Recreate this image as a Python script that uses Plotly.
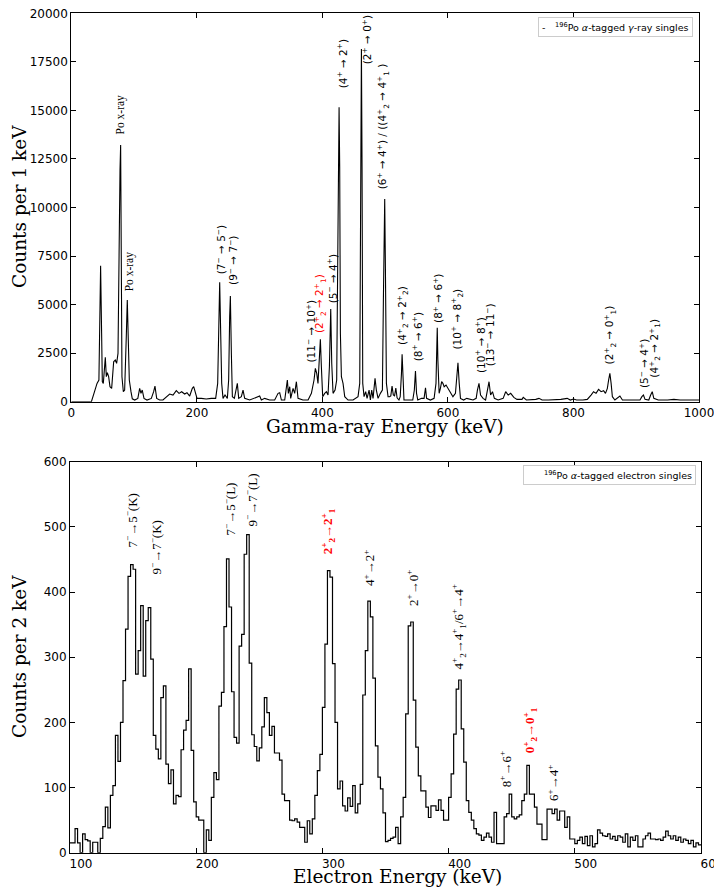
import numpy as np
import plotly.graph_objects as go

# ---------------------------------------------------------------------------
# 196Po alpha-tagged gamma-ray singles (energy in keV, counts per 1 keV)
# ---------------------------------------------------------------------------
gamma_energy = [
    0, 30, 32, 37, 41, 44, 45.7, 46.7, 48.3, 49.4, 51, 53.1, 54.2, 55.8, 57.4,
    59.5, 61.6, 64.3, 67.5, 70.1, 72.2, 74.4, 76, 77.6, 78.6, 79.7, 80.7, 82.9,
    85, 87.6, 89.2, 90.8, 92.4, 95.1, 97.2, 101, 106, 108.9, 111, 113, 115.8,
    120.6, 127.5, 131.2, 133.3, 136, 140.8, 146, 152.5, 156.7, 162, 167.3,
    171.6, 175.8, 180.6, 184.3, 188.6, 192.8, 195, 197.6, 200.3, 207.2, 215,
    223, 230, 233.2, 234.8, 236.4, 238, 239.6, 241.7, 244.9, 248.6, 250.7,
    252.3, 253.4, 255, 256.6, 259.8, 263, 264.5, 266.7, 270.9, 273.6, 276.2,
    284.2, 292.2, 300.1, 302.8, 308.1, 316, 324, 329.4, 332, 334.7, 340, 344.2,
    345.8, 348, 349.5, 353.3, 355.9, 358.6, 361.2, 369, 377.2, 382.5, 386.7,
    388.8, 391, 393, 395.2, 396.8, 398.4, 400.5, 403.7, 406.4, 409, 411.2,
    413.3, 414.9, 417, 420.2, 422.8, 424.4, 425.5, 426.6, 427.6, 428.7, 430.3,
    432.9, 435.6, 440.9, 448.9, 456.8, 459.5, 461, 462.2, 463.2, 464.3, 466.4,
    469, 471.2, 474.4, 476.5, 478.6, 480.7, 483.9, 486, 488.7, 492.4, 495.6,
    497.2, 498.3, 499.3, 500.4, 502, 504.6, 507, 509, 511, 513, 515, 517, 519,
    522, 524, 526, 527, 528.5, 530, 537, 544, 546.5, 548.3, 550, 552, 558, 562,
    564.3, 566, 572, 578, 581, 582, 583, 584, 586, 588, 590, 592, 594, 597,
    600, 603, 608, 612, 614, 616, 618, 620, 625, 630, 640, 645, 647, 649.5,
    652, 656, 660, 663, 665.5, 668, 671, 674, 680, 688, 692, 696, 700, 705,
    710, 718, 720, 725, 735, 740, 745, 750, 760, 770, 780, 790, 795, 800, 805,
    815, 822, 828, 832, 836, 840, 844, 848, 851, 854, 856, 858, 860, 862, 866,
    870, 874, 878, 890, 900, 906, 909, 911.5, 914, 920, 923, 925.5, 928, 935,
    950, 960, 970, 980, 990, 1000,
]
gamma_counts = [
    0, 0, 0, 515, 944, 1116, 5580, 7005, 3520, 1030, 944, 2060, 2283, 1288,
    1494, 1288, 773, 687, 2060, 2146, 1975, 2490, 9530, 11930, 13220, 6950,
    1288, 515, 600, 3350, 5237, 3180, 1116, 515, 150, 86, 170, 687, 430, 600,
    170, 86, 170, 515, 807, 170, 86, 86, 258, 395, 343, 567, 430, 515, 395,
    464, 292, 687, 773, 430, 170, 170, 137, 170, 170, 944, 3520, 6147, 3520,
    944, 170, 343, 170, 1116, 4380, 5443, 2490, 258, 172, 773, 944, 170, 258,
    600, 172, 86, 172, 292, 86, 172, 86, 86, 430, 464, 86, 86, 1116, 430, 773,
    172, 687, 430, 1030, 172, 86, 86, 430, 1116, 1717, 1460, 944, 2146, 3210,
    1800, 258, 430, 515, 343, 1800, 4773, 1975, 430, 600, 1116, 9014, 12100,
    15160, 12100, 3520, 1288, 944, 258, 86, 86, 258, 944, 12100, 18165, 12100,
    944, 258, 515, 172, 600, 86, 600, 172, 1200, 600, 172, 430, 600, 5237,
    9360, 10439, 6950, 944, 258, 258, 300, 800, 350, 300, 700, 200, 86, 258,
    1460, 2438, 1288, 86, 86, 86, 600, 1580, 430, 86, 172, 172, 721, 172, 86,
    172, 944, 2660, 3812, 2146, 430, 687, 1030, 944, 773, 860, 687, 515, 258,
    430, 1116, 2009, 944, 170, 86, 172, 86, 172, 600, 944, 343, 172, 86, 515,
    1030, 343, 515, 172, 86, 172, 515, 343, 430, 223, 120, 120, 223, 86, 86,
    120, 172, 86, 86, 86, 120, 172, 86, 140, 86, 86, 120, 343, 515, 430, 635,
    515, 567, 430, 687, 1116, 1460, 944, 258, 86, 172, 292, 86, 86, 120, 86,
    258, 343, 120, 86, 343, 515, 172, 86, 86, 120, 86, 86, 100, 86,
]

# ---------------------------------------------------------------------------
# 196Po alpha-tagged electron singles (2 keV bins starting at 100 keV)
# ---------------------------------------------------------------------------
electron_bin_start = 100
electron_bin_width = 2
electron_counts = [
    15, 15, 37, 15, 0, 29, 20, 18, 0, 16,            # 100-120
    16, 0, 22, 40, 70, 38, 88, 103, 180, 140,        # 120-140
    200, 264, 343, 424, 442, 435, 274, 310, 379, 271,  # 140-160
    356, 376, 297, 180, 159, 144, 238, 256, 136, 106,  # 160-180
    127, 75, 88, 86, 158, 188, 203, 282, 157, 78,      # 180-200
    55, 50, 50, 0, 35, 19, 85, 123, 112, 225,          # 200-220
    246, 347, 451, 377, 247, 177, 168, 317, 335, 458,  # 220-240
    488, 291, 181, 163, 141, 161, 193, 238, 215, 180,  # 240-260
    194, 153, 153, 142, 90, 80, 80, 50, 49, 52,        # 260-280
    47, 39, 39, 16, 49, 29, 52, 88, 126, 151,          # 280-300
    223, 320, 433, 423, 290, 200, 98, 110, 72, 64,     # 300-320
    84, 71, 103, 61, 75, 105, 242, 310, 386, 362,      # 320-340
    268, 164, 116, 98, 61, 17, 19, 22, 24, 39,         # 340-360
    14, 55, 85, 213, 348, 354, 234, 162, 118, 95,      # 360-380
    95, 70, 54, 72, 72, 65, 81, 65, 50, 50,            # 380-400
    85, 121, 182, 251, 265, 190, 139, 80, 62, 50,      # 400-420
    37, 29, 27, 19, 24, 30, 24, 16, 62, 14,            # 420-440
    14, 14, 55, 60, 90, 55, 52, 55, 58, 80,            # 440-460
    90, 134, 90, 90, 70, 44, 44, 20, 20, 67,           # 460-480
    67, 60, 67, 50, 64, 64, 39, 55, 21, 21,            # 480-500
    14, 19, 24, 14, 25, 11, 26, 9, 14, 35,             # 500-520
    30, 26, 25, 29, 21, 25, 19, 26, 24, 16,            # 520-540
    29, 9, 24, 19, 26, 9, 9, 21, 26, 30,               # 540-560
    21, 21, 20, 21, 19, 24, 33, 26, 21, 26,            # 560-580
    19, 24, 16, 21, 19, 14, 19, 9, 15, 12,             # 580-600
]

# transition labels: (text, energy keV, label base in counts, colour)
gamma_labels = [
    ("(7<sup>−</sup> → 5<sup>−</sup>)", 237, 6437, "black"),
    ("(9<sup>−</sup> → 7<sup>−</sup>)", 255.6, 5922, "black"),
    ("(11<sup>−</sup> → 10<sup>+</sup>)", 380.4, 1890, "black"),
    ("(2<sup>+</sup><sub>2</sub> → 2<sup>+</sup><sub>1</sub>)", 397, 3435, "red"),
    ("(5<sup>−</sup> → 4<sup>+</sup>)", 415, 4980, "black"),
    ("(4<sup>+</sup> → 2<sup>+</sup>)", 431, 16050, "black"),
    ("(2<sup>+</sup> → 0<sup>+</sup>)", 469.6, 17250, "black"),
    ("(6<sup>+</sup> → 4<sup>+</sup>) / ((4<sup>+</sup><sub>2</sub> → 4<sup>+</sup><sub>1</sub> )",
     496, 10813, "black"),
    ("(4<sup>+</sup><sub>2</sub> → 2<sup>+</sup><sub>2</sub>)", 528, 2832, "black"),
    ("(8<sup>+</sup> → 6<sup>+</sup>)", 550.4, 1993, "black"),
    ("(8<sup>+</sup> → 6<sup>+</sup>)", 583.3, 3950, "black"),
    ("(10<sup>+</sup> → 8<sup>+</sup><sub>2</sub>)", 615, 2575, "black"),
    ("(10<sup>+</sup> → 8<sup>+</sup>)", 649.7, 1375, "black"),
    ("(13<sup>−</sup> → 11<sup>−</sup>)", 666, 1720, "black"),
    ("(2<sup>+</sup><sub>2</sub> → 0<sup>+</sup><sub>1</sub>)", 858.5, 1802, "black"),
    ("(5<sup>−</sup> → 4<sup>+</sup>)", 911.7, 602, "black"),
    ("(4<sup>+</sup><sub>2</sub> → 2<sup>+</sup><sub>1</sub>)", 928.6, 1117, "black"),
]
xray_labels = [
    ("Po x-ray", 78.7, 13645),
    ("Po x-ray", 92.5, 5597),
]
electron_labels = [
    ("7<sup>−</sup>→5<sup>−</sup>(K)", 148.7, 466, "black"),
    ("9<sup>−</sup>→7<sup>−</sup>(K)", 168.2, 424, "black"),
    ("7<sup>−</sup>→5<sup>−</sup>(L)", 226.8, 483, "black"),
    ("9<sup>−</sup>→7<sup>−</sup>(L)", 243.2, 498, "black"),
    ("<b>2<sup>+</sup><sub>2</sub>→2<sup>+</sup><sub>1</sub></b>", 304.4, 455, "red"),
    ("4<sup>+</sup>→2<sup>+</sup>", 336.8, 406, "black"),
    ("2<sup>+</sup>→0<sup>+</sup>", 371.5, 375, "black"),
    ("4<sup>+</sup><sub>2</sub>→4<sup>+</sup><sub>1</sub>/6<sup>+</sup>→4<sup>+</sup>", 407.8, 278, "black"),
    ("8<sup>+</sup>→6<sup>+</sup>", 445.2, 97, "black"),
    ("<b>0<sup>+</sup><sub>2</sub>→0<sup>+</sup><sub>1</sub></b>", 464.2, 149, "red"),
    ("6<sup>+</sup>→4<sup>+</sup>", 482.6, 76, "black"),
]

W, H = 714, 888
SANS = "DejaVu Sans"
SERIF = "Liberation Serif"
TITLE_SERIF = "DejaVu Serif"


def px_x(p):
    return p / W


def px_y(p):
    return 1 - p / H


fig = go.Figure()

fig.add_trace(go.Scatter(
    x=gamma_energy, y=gamma_counts, mode="lines",
    line=dict(color="black", width=1.1),
    xaxis="x", yaxis="y", showlegend=False, hoverinfo="skip",
))

edges = electron_bin_start + electron_bin_width * np.arange(len(electron_counts) + 1)
fig.add_trace(go.Scatter(
    x=edges, y=electron_counts + [electron_counts[-1]], mode="lines",
    line=dict(color="black", width=1.2, shape="hv"),
    xaxis="x2", yaxis="y2", showlegend=False, hoverinfo="skip",
))

axis_style = dict(
    showline=True, linecolor="black", linewidth=1, mirror="ticks",
    ticks="inside", ticklen=5, tickwidth=1, tickcolor="black",
    tickfont=dict(family=SANS, size=12, color="black"),
    showgrid=False, zeroline=False, automargin=False, tickformat="d",
    ticklabeloverflow="allow",
)

fig.update_layout(
    template="none",
    width=W, height=H, autosize=False,
    margin=dict(l=0, r=0, t=0, b=0, pad=0),
    paper_bgcolor="white", plot_bgcolor="white",
    showlegend=False,
    xaxis=dict(domain=[px_x(71.3), px_x(699)], range=[0, 1000], tick0=0, dtick=200,
               anchor="y", **axis_style),
    yaxis=dict(domain=[px_y(401.7), px_y(13.3)], range=[0, 20000], tick0=0, dtick=2500,
               anchor="x", **axis_style),
    xaxis2=dict(domain=[px_x(70), px_x(701)], range=[100, 600], tick0=100, dtick=100,
                anchor="y2", ticklabelshift=11, **axis_style),
    yaxis2=dict(domain=[px_y(852.7), px_y(461.7)], range=[0, 600], tick0=0, dtick=100,
                anchor="x2", **axis_style),
)

ann = []
for text, e, y, col in gamma_labels:
    ann.append(dict(x=e, y=y, xref="x", yref="y", text=text, showarrow=False,
                    textangle=-90, xanchor="center", yanchor="bottom",
                    font=dict(family=SANS, size=10.5, color=col)))
for text, e, y in xray_labels:
    ann.append(dict(x=e, y=y, xref="x", yref="y", text=text, showarrow=False,
                    textangle=-90, xanchor="center", yanchor="bottom",
                    font=dict(family=SERIF, size=11.5, color="black")))
for text, e, y, col in electron_labels:
    ann.append(dict(x=e, y=y, xref="x2", yref="y2", text=text, showarrow=False,
                    textangle=-90, xanchor="center", yanchor="bottom",
                    font=dict(family=SERIF, size=13, color=col)))

# axis titles
title_font = dict(family=TITLE_SERIF, size=18.5, color="black")
ann += [
    dict(x=px_x(19), y=px_y(207), xref="paper", yref="paper", text="Counts per 1 keV",
         showarrow=False, textangle=-90, xanchor="center", yanchor="middle",
         font=title_font),
    dict(x=px_x(385), y=px_y(426), xref="paper", yref="paper", text="Gamma-ray Energy (keV)",
         showarrow=False, xanchor="center", yanchor="middle", font=title_font),
    dict(x=px_x(19), y=px_y(657), xref="paper", yref="paper", text="Counts per 2 keV",
         showarrow=False, textangle=-90, xanchor="center", yanchor="middle",
         font=title_font),
    dict(x=px_x(397), y=px_y(876), xref="paper", yref="paper", text="Electron Energy (keV)",
         showarrow=False, xanchor="center", yanchor="middle", font=title_font),
]

# legend boxes
ann += [
    dict(x=px_x(693.3), y=px_y(16.7), xref="paper", yref="paper",
         text="-\u2003<sup>196</sup>Po <i>α</i>-tagged <i>γ</i>-ray singles",
         showarrow=False, xanchor="right", yanchor="top",
         bgcolor="white", bordercolor="#cccccc", borderwidth=1, borderpad=3,
         font=dict(family=SANS, size=9.5, color="black")),
    dict(x=px_x(696), y=px_y(465), xref="paper", yref="paper",
         text="<sup>196</sup>Po <i>α</i>-tagged electron singles",
         showarrow=False, xanchor="right", yanchor="top", width=165, align="right",
         bgcolor="white", bordercolor="#cccccc", borderwidth=1, borderpad=3,
         font=dict(family=SANS, size=9.5, color="black")),
]

fig.update_layout(annotations=ann)
fig.write_html("out.html")
